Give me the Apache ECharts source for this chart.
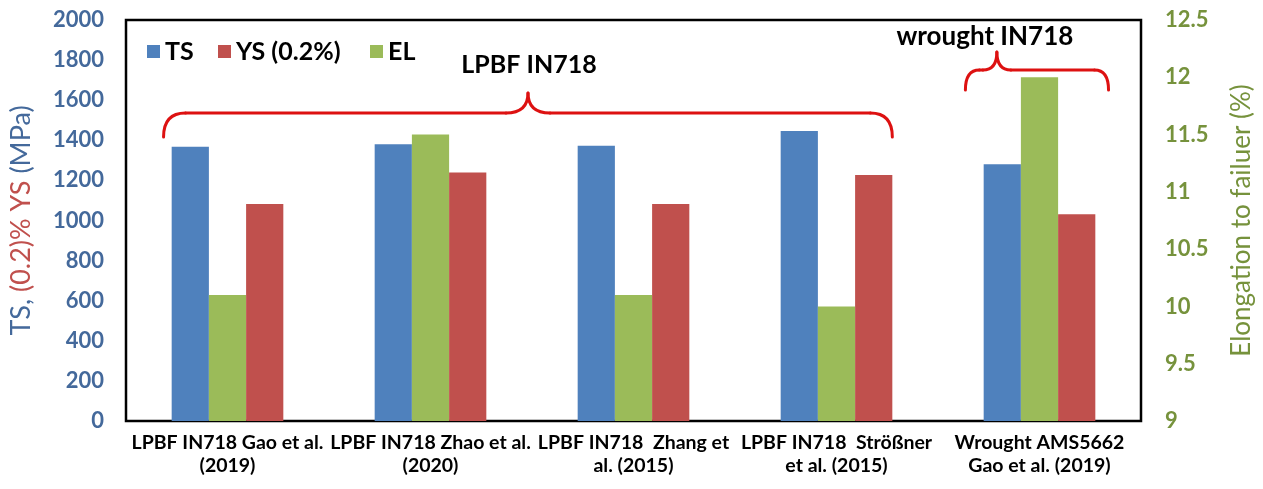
<!DOCTYPE html>
<html>
<head>
<meta charset="utf-8">
<script src="https://cdn.jsdelivr.net/npm/echarts@6/dist/echarts.min.js"></script>
<style>
  html, body { margin: 0; padding: 0; background: #fff; }
  #chart { width: 1263px; height: 489px; }
</style>
</head>
<body>
<div id="chart"></div>
<script>
// Tensile properties of LPBF and wrought IN718
const categories = [
  'LPBF IN718 Gao et al.\n(2019)',
  'LPBF IN718 Zhao et al.\n(2020)',
  'LPBF IN718  Zhang et\nal. (2015)',
  'LPBF IN718  Strößner\net al. (2015)',
  'Wrought AMS5662\nGao et al. (2019)'
];
const tensileStrength = [1368, 1380, 1373, 1446, 1280];   // MPa
const yieldStrength = [1082, 1240, 1082, 1227, 1031];     // MPa
const elongation = [10.1, 11.5, 10.1, 10.0, 12.0];        // %

const FONT = 'Lato, "Liberation Sans", sans-serif';
const BLUE = '#4f81bd', RED = '#c0504d', GREEN = '#9bbb59';
const LEFT_TXT = '#44699b', RIGHT_TXT = '#76923c';
const BRACE = '#dd1111';

const chart = echarts.init(document.getElementById('chart'), null, { renderer: 'canvas' });

const barCommon = { type: 'bar', barGap: '0%', barCategoryGap: '45%' };

// one legend block per entry so each entry can sit at its own spot
function legendItem(name, left) {
  return {
    data: [name], left: left, top: 34,
    icon: 'rect', itemWidth: 13, itemHeight: 13, itemGap: 0,
    textStyle: { fontFamily: FONT, fontWeight: 'bold', fontSize: 25, color: '#000' }
  };
}

chart.setOption({
  animation: false,
  textStyle: { fontFamily: FONT },
  grid: {
    left: 122, right: 110, top: 20, bottom: 68,
    show: true, borderColor: '#000', borderWidth: 2.5, backgroundColor: '#fff'
  },
  legend: [
    legendItem('TS', 142),
    legendItem('YS (0.2%)', 213),
    legendItem('EL', 365)
  ],
  xAxis: {
    type: 'category',
    data: categories,
    axisLine: { show: false },
    axisTick: { show: false },
    axisLabel: {
      interval: 0, margin: 10,
      fontFamily: FONT, fontWeight: 'bold', fontSize: 19.5, lineHeight: 23, color: '#000'
    }
  },
  yAxis: [
    {
      type: 'value', min: 0, max: 2000, interval: 200,
      position: 'left',
      axisLine: { show: false }, axisTick: { show: false }, splitLine: { show: false },
      axisLabel: {
        margin: 22, fontFamily: FONT, fontWeight: 'bold', fontSize: 22, color: LEFT_TXT,
        formatter: function (v) { return String(v); }
      },
      name: '{b|TS, }{r|(0.2)% YS }{b|(MPa)}',
      nameLocation: 'middle', nameGap: 91, nameRotate: 90,
      nameTextStyle: {
        fontFamily: FONT, fontSize: 27,
        rich: {
          b: { color: LEFT_TXT, fontFamily: FONT, fontSize: 27 },
          r: { color: RED, fontFamily: FONT, fontSize: 27 }
        }
      }
    },
    {
      type: 'value', min: 9, max: 12.5, interval: 0.5,
      position: 'right',
      axisLine: { show: false }, axisTick: { show: false }, splitLine: { show: false },
      axisLabel: { margin: 24, fontFamily: FONT, fontWeight: 'bold', fontSize: 22, color: RIGHT_TXT },
      name: 'Elongation to failuer (%)',
      nameLocation: 'middle', nameGap: 88, nameRotate: 90,
      nameTextStyle: { fontFamily: FONT, fontSize: 26, color: RIGHT_TXT }
    }
  ],
  series: [
    Object.assign({ name: 'TS', yAxisIndex: 0, data: tensileStrength, itemStyle: { color: BLUE } }, barCommon),
    Object.assign({ name: 'EL', yAxisIndex: 1, data: elongation, itemStyle: { color: GREEN } }, barCommon),
    Object.assign({ name: 'YS (0.2%)', yAxisIndex: 0, data: yieldStrength, itemStyle: { color: RED } }, barCommon)
  ]
});

// Curly brace grouping annotations, placed from category positions
function catX(i) { return chart.convertToPixel({ xAxisIndex: 0 }, i); }
const band = catX(1) - catX(0);

function braceParts(x1, xm, x2, yLine, yPeak, yTip, r) {
  const st = { stroke: BRACE, lineWidth: 3, fill: 'none', lineCap: 'round' };
  const curve = (ax, ay, cx, cy, bx, by) => ({
    type: 'bezierCurve', silent: true,
    shape: { x1: ax, y1: ay, x2: bx, y2: by, cpx1: cx, cpy1: cy },
    style: st
  });
  const seg = (ax, bx) => ({
    type: 'line', silent: true,
    shape: { x1: ax, y1: yLine, x2: bx, y2: yLine },
    style: st
  });
  return [
    curve(x1, yTip, x1, yLine, x1 + r, yLine),
    seg(x1 + r, xm - r),
    curve(xm - r, yLine, xm, yLine, xm, yPeak),
    curve(xm, yPeak, xm, yLine, xm + r, yLine),
    seg(xm + r, x2 - r),
    curve(x2 - r, yLine, x2, yLine, x2, yTip)
  ];
}

const lpbfLeft = catX(0) - band * 0.315;
const lpbfRight = catX(3) + band * 0.275;
const lpbfMid = (catX(1) + catX(2)) / 2 - 4;
const wrLeft = catX(4) - band * 0.365;
const wrRight = catX(4) + band * 0.34;
const wrMid = catX(4) - band * 0.21;

chart.setOption({
  graphic: [].concat(
    braceParts(lpbfLeft, lpbfMid, lpbfRight, 113, 93, 137, 22),
    braceParts(wrLeft, wrMid, wrRight, 70, 52, 90, 14),
    [
      {
        type: 'text', silent: true, x: lpbfMid + 1, y: 65,
        style: { text: 'LPBF IN718', fill: '#000', font: 'bold 25px ' + FONT, textAlign: 'center', textVerticalAlign: 'middle' }
      },
      {
        type: 'text', silent: true, x: wrMid - 12, y: 37,
        style: { text: 'wrought IN718', fill: '#000', font: 'bold 26px ' + FONT, textAlign: 'center', textVerticalAlign: 'middle' }
      }
    ]
  )
});
</script>
</body>
</html>
